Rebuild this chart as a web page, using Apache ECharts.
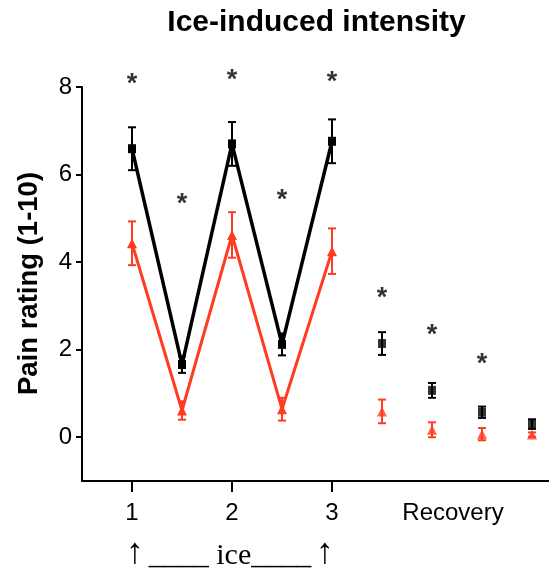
<!DOCTYPE html>
<html>
<head>
<meta charset="utf-8">
<script src="https://cdn.jsdelivr.net/npm/echarts@6/dist/echarts.min.js"></script>
<style>html,body{margin:0;padding:0;background:#fff}#c{width:549px;height:573px}</style>
</head>
<body>
<div id="c"></div>
<script>
// ---- data ----
var xPos      = [1, 1.5, 2, 2.5, 3, 3.5, 4, 4.5, 5];
var blackMean = [6.59, 1.66, 6.70, 2.12, 6.76, 2.14, 1.07, 0.57, 0.30];
var blackErr  = [0.49, 0.19, 0.50, 0.25, 0.50, 0.26, 0.17, 0.13, 0.11];
var redMean   = [4.43, 0.61, 4.62, 0.64, 4.25, 0.59, 0.17, 0.07, 0.06];
var redErr    = [0.50, 0.21, 0.52, 0.26, 0.52, 0.27, 0.17, 0.14, 0.05];
var starX     = [1, 1.5, 2, 2.5, 3, 3.5, 4, 4.5];
var starY     = [8.13, 5.39, 8.22, 5.47, 8.17, 3.23, 2.38, 1.74];
var xTickValues  = [1, 2, 3];
var xLabelValues = [1, 2, 3, 4.21];
var xLabelTexts  = ['1', '2', '3', 'Recovery'];
var yTickValues  = [0, 2, 4, 6, 8];
var titleText = 'Ice-induced intensity';
var yName = 'Pain rating (1-10)';
var iceArrow = '\u2191';
var iceText = '____ ice____';

var RED = '#FF3B22', BLACK = '#000000';
var SANS = '"Liberation Sans", Arial, Helvetica, sans-serif';
var SERIF = '"Liberation Serif", "Times New Roman", serif';

function pairs(xs, ys, a, b) {
  var out = [];
  for (var i = a; i < b; i++) out.push([xs[i], ys[i]]);
  return out;
}
function errData(xs, m, e) {
  return xs.map(function (x, i) { return [x, m[i] - e[i], m[i] + e[i]]; });
}
function errSeries(data, color) {
  return {
    type: 'custom', data: data, silent: true, z: 3, clip: false,
    renderItem: function (params, api) {
      var x = api.value(0);
      var lo = api.coord([x, api.value(1)]);
      var hi = api.coord([x, api.value(2)]);
      var w = 4;
      var st = { stroke: color, lineWidth: 2 };
      return {
        type: 'group', children: [
          { type: 'line', shape: { x1: lo[0], y1: lo[1], x2: hi[0], y2: hi[1] }, style: st },
          { type: 'line', shape: { x1: lo[0] - w, y1: lo[1], x2: lo[0] + w, y2: lo[1] }, style: st },
          { type: 'line', shape: { x1: hi[0] - w, y1: hi[1], x2: hi[0] + w, y2: hi[1] }, style: st }
        ]
      };
    }
  };
}

var chart = echarts.init(document.getElementById('c'), null, { renderer: 'canvas' });
chart.setOption({
  animation: false,
  backgroundColor: '#fff',
  grid: { left: 82, right: 0, top: 87, bottom: 92, containLabel: false },
  xAxis: {
    type: 'value', min: 0.5, max: 5.17,
    splitLine: { show: false },
    axisLine: { show: true, onZero: false, lineStyle: { color: '#000', width: 2 } },
    axisTick: { show: true, length: 11, lineStyle: { color: '#000', width: 2 }, customValues: xTickValues },
    axisLabel: {
      customValues: xLabelValues, margin: 20,
      color: '#000', fontFamily: SANS, fontSize: 24,
      formatter: function (v) {
        for (var i = 0; i < xLabelValues.length; i++) if (Math.abs(v - xLabelValues[i]) < 1e-6) return xLabelTexts[i];
        return '';
      }
    }
  },
  yAxis: {
    type: 'value', min: -1, max: 8,
    splitLine: { show: false },
    axisLine: { show: true, onZero: false, lineStyle: { color: '#000', width: 2 } },
    axisTick: { show: true, length: 6, lineStyle: { color: '#000', width: 2 }, customValues: yTickValues },
    axisLabel: { customValues: yTickValues, margin: 10, color: '#000', fontFamily: SANS, fontSize: 24 }
  },
  graphic: [
    { type: 'text', x: 316.5, y: 23, style: { text: titleText, align: 'center', verticalAlign: 'middle', fontFamily: SANS, fontWeight: 'bold', fontSize: 30, fill: '#000' } },
    { type: 'text', x: 29, y: 283.5, rotation: Math.PI / 2, style: { text: yName, align: 'center', verticalAlign: 'middle', fontFamily: SANS, fontWeight: 'bold', fontSize: 27.5, fill: '#000' } },
    { type: 'text', x: 135, y: 554, style: { text: iceArrow, align: 'center', verticalAlign: 'middle', fontFamily: SERIF, fontSize: 36, fill: '#000' } },
    { type: 'text', x: 325, y: 554, style: { text: iceArrow, align: 'center', verticalAlign: 'middle', fontFamily: SERIF, fontSize: 36, fill: '#000' } },
    { type: 'text', x: 230, y: 556, style: { text: iceText, align: 'center', verticalAlign: 'middle', fontFamily: SERIF, fontSize: 30, fill: '#000' } }
  ],
  series: [
    errSeries(errData(xPos, redMean, redErr), RED),
    {
      type: 'line', data: pairs(xPos, redMean, 0, 5), z: 4,
      lineStyle: { color: RED, width: 3 }, itemStyle: { color: RED },
      symbol: 'triangle', symbolSize: 10, showSymbol: true
    },
    {
      type: 'scatter', data: pairs(xPos, redMean, 5, 9), z: 4,
      itemStyle: { color: RED }, symbol: 'triangle', symbolSize: 10
    },
    errSeries(errData(xPos, blackMean, blackErr), BLACK),
    {
      type: 'line', data: pairs(xPos, blackMean, 0, 5), z: 5,
      lineStyle: { color: BLACK, width: 3.5 }, itemStyle: { color: BLACK },
      symbol: 'rect', symbolSize: [8, 9], showSymbol: true
    },
    {
      type: 'scatter', data: pairs(xPos, blackMean, 5, 9), z: 5,
      itemStyle: { color: BLACK }, symbol: 'rect', symbolSize: [8, 9]
    },
    {
      type: 'scatter', data: pairs(starX, starY, 0, starX.length), z: 6, clip: false,
      symbolSize: 1, itemStyle: { color: 'rgba(0,0,0,0)' },
      label: { show: true, position: 'inside', formatter: '*', offset: [0, 3], color: '#000', fontFamily: SANS, fontWeight: 'bold', fontSize: 27 }
    }
  ]
});
</script>
</body>
</html>
